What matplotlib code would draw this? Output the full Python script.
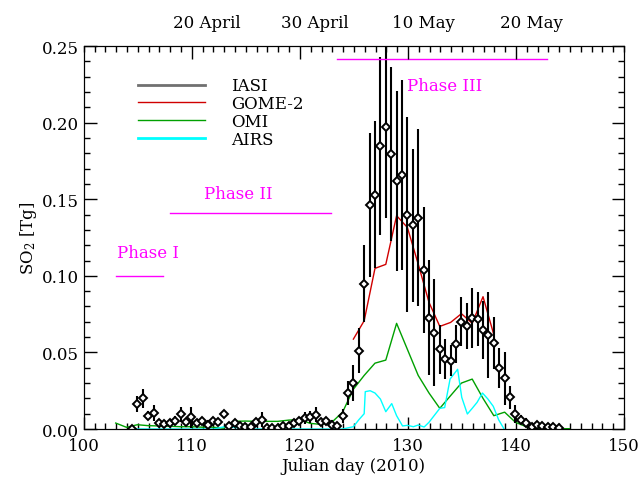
import matplotlib
matplotlib.use("Agg")
import matplotlib.pyplot as plt
from matplotlib.ticker import MultipleLocator

plt.rcParams['font.family'] = 'DejaVu Serif'
plt.rcParams['mathtext.fontset'] = 'dejavuserif'

# IASI daily values (two per day) with errors
iasi_day = [104.45, 104.95, 105.45, 105.95, 106.45, 106.95, 107.45, 107.95, 108.45, 108.95,
            109.45, 109.95, 110.45, 110.95, 111.45, 111.95, 112.45, 112.95, 113.45, 113.95,
            114.45, 114.95, 115.45, 115.95, 116.45, 116.95, 117.45, 117.95, 118.45, 118.95,
            119.45, 119.95, 120.45, 120.95, 121.45, 121.95, 122.45, 122.95, 123.45, 123.95,
            124.45, 124.95, 125.45, 125.95, 126.45, 126.95, 127.45, 127.95, 128.45, 128.95,
            129.45, 129.95, 130.45, 130.95, 131.45, 131.95, 132.45, 132.95, 133.45, 133.95,
            134.45, 134.95, 135.45, 135.95, 136.45, 136.95, 137.45, 137.95, 138.45, 138.95,
            139.45, 139.95, 140.45, 140.95, 141.45, 141.95, 142.45, 142.95, 143.45, 143.95]
iasi_so2 = [0.000, 0.0163, 0.020, 0.0087, 0.0104, 0.0037, 0.0033, 0.0037, 0.0054, 0.0096,
            0.0044, 0.0076, 0.0039, 0.0054, 0.0028, 0.005, 0.0044, 0.0098, 0.002, 0.0037,
            0.002, 0.0015, 0.0015, 0.0044, 0.006, 0.0005, 0.0007, 0.0005, 0.0017, 0.002,
            0.0037, 0.005, 0.0072, 0.008, 0.0093, 0.0048, 0.0054, 0.0026, 0.0017, 0.0087,
            0.0235, 0.030, 0.051, 0.095, 0.146, 0.153, 0.185, 0.1975, 0.1795, 0.162,
            0.166, 0.140, 0.133, 0.138, 0.104, 0.0727, 0.063, 0.052, 0.0457, 0.0446,
            0.0557, 0.070, 0.067, 0.0727, 0.0718, 0.0646, 0.0616, 0.056, 0.040, 0.033,
            0.0207, 0.0098, 0.006, 0.004, 0.0015, 0.0026, 0.002, 0.001, 0.001, 0.0007]
iasi_err = [0.001, 0.005, 0.006, 0.003, 0.005, 0.002, 0.002, 0.002, 0.003, 0.005,
            0.002, 0.007, 0.002, 0.002, 0.003, 0.003, 0.002, 0.001, 0.001, 0.002,
            0.001, 0.001, 0.001, 0.003, 0.005, 0.001, 0.001, 0.001, 0.001, 0.001,
            0.002, 0.002, 0.004, 0.004, 0.005, 0.002, 0.002, 0.003, 0.002, 0.0045,
            0.0077, 0.012, 0.0147, 0.025, 0.047, 0.048, 0.058, 0.06, 0.057, 0.059,
            0.062, 0.0635, 0.05, 0.058, 0.041, 0.0375, 0.035, 0.016, 0.013, 0.010,
            0.0125, 0.016, 0.015, 0.0195, 0.0175, 0.019, 0.028, 0.017, 0.013, 0.017,
            0.0075, 0.006, 0.003, 0.003, 0.001, 0.001, 0.001, 0.001, 0.001, 0.001]

# GOME-2
gome_day = [124.95, 125.95, 126.95, 127.95, 128.95, 129.95, 130.95, 131.95, 132.95,
            133.95, 134.95, 135.95, 136.95, 137.95]
gome_so2 = [0.0587, 0.0707, 0.1049, 0.1075, 0.1393, 0.1316, 0.1077, 0.0827, 0.067,
            0.0696, 0.0753, 0.069, 0.0864, 0.0616]

# OMI
omi_day = [102.95, 103.95, 104.95, 105.95, 106.95, 107.95, 108.95, 109.95, 110.95, 111.95,
           112.95, 113.95, 114.95, 115.95, 116.95, 117.95, 118.95, 119.95, 120.95, 121.95,
           122.95, 123.95, 124.95, 125.95, 126.95, 127.95, 128.95, 129.95, 130.95, 131.95,
           132.95, 133.95, 134.95, 135.95, 136.95, 137.95, 138.95, 139.95, 140.95, 141.95,
           142.95, 143.95, 144.95]
omi_so2 = [0.0039, 0.0011, 0.0028, 0.0022, 0.0020, 0.0018, 0.0015, 0.0015, 0.0012, 0.0012,
           0.0005, 0.0050, 0.0052, 0.0050, 0.0050, 0.0050, 0.0058, 0.0062, 0.0037, 0.0030,
           0.0044, 0.011, 0.026, 0.035, 0.043, 0.045, 0.069, 0.052, 0.035, 0.0235,
           0.0135, 0.0218, 0.030, 0.0326, 0.020, 0.0087, 0.011, 0.0044, 0.0015, 0.0005,
           0.0003, 0.0002, 0.0002]

# AIRS
airs_day = [104.7, 106.0, 108.0, 110.0, 112.0, 113.0, 114.0, 115.0, 117.0, 119.0,
            121.0, 123.0, 123.95, 124.95, 125.45, 125.95, 126.05, 126.5, 126.95, 127.45,
            127.95, 128.5, 128.95, 129.5, 129.95, 130.5, 130.95, 131.5, 131.95, 132.95,
            133.4, 133.9, 134.6, 134.98, 135.5, 135.95, 136.4, 136.9, 137.4, 137.9,
            138.4, 138.9]
airs_so2 = [0.0, 0.0, 0.0, 0.0, 0.0, 0.0015, 0.0010, 0.0, 0.0, 0.0,
            0.0, 0.0, 0.0, 0.0015, 0.006, 0.010, 0.0244, 0.025, 0.0235, 0.0196,
            0.0113, 0.0166, 0.0087, 0.002, 0.0024, 0.0015, 0.0026, 0.0013, 0.0044, 0.0135,
            0.014, 0.0326, 0.039, 0.0207, 0.0098, 0.0135, 0.0174, 0.0235, 0.0196, 0.0148,
            0.006, 0.0]

phase_names = ['Phase I', 'Phase II', 'Phase III']
phase_start = [103.0, 108.0, 123.4]
phase_end = [107.3, 122.9, 142.9]
phase_level = [0.100, 0.141, 0.2415]
phase_text_x = [105.9, 114.3, 133.4]
phase_text_y = [0.115, 0.154, 0.224]

top_ticks = [110, 120, 130, 140]
top_labels = ['20 April', '30 April', '10 May', '20 May']

fig = plt.figure(figsize=(6.4, 4.81), dpi=100)
ax = fig.add_axes([0.131, 0.106, 0.844, 0.796])

ax.plot(omi_day, omi_so2, color='#00a000', lw=1.0)
ax.plot(airs_day, airs_so2, color='#00ffff', lw=1.0)
ax.plot(gome_day, gome_so2, color='#d00000', lw=1.0)
ax.errorbar(iasi_day, iasi_so2, yerr=iasi_err, fmt='none', ecolor='black', elinewidth=1.5,
            capsize=0)
ax.plot(iasi_day, iasi_so2, 'D', ms=4, mfc='white', mec='black', mew=1.4)

for s, e, lev in zip(phase_start, phase_end, phase_level):
    ax.plot([s, e], [lev, lev], color='#ff00ff', lw=1.0)
for name, tx, ty in zip(phase_names, phase_text_x, phase_text_y):
    ax.text(tx, ty, name, color='#ff00ff', fontsize=12, ha='center', va='center')

# legend
leg_handles = [
    plt.Line2D([], [], color='#707070', lw=2),
    plt.Line2D([], [], color='#d00000', lw=1),
    plt.Line2D([], [], color='#00a000', lw=1),
    plt.Line2D([], [], color='#00ffff', lw=2),
]
ax.legend(leg_handles, ['IASI', 'GOME-2', 'OMI', 'AIRS'], loc='upper left',
          bbox_to_anchor=(0.085, 0.94), frameon=False, fontsize=12,
          handlelength=4.0, handletextpad=1.6, labelspacing=0.05, borderpad=0)

ax.set_xlim(100, 150)
ax.set_ylim(0, 0.25)
ax.xaxis.set_major_locator(MultipleLocator(10))
ax.xaxis.set_minor_locator(MultipleLocator(1))
ax.yaxis.set_major_locator(MultipleLocator(0.05))
ax.yaxis.set_minor_locator(MultipleLocator(0.01))
ax.yaxis.set_major_formatter(plt.FormatStrFormatter('%.2f'))
ax.tick_params(which='both', direction='in', right=True, top=False, labelsize=12)
ax.tick_params(axis='x', pad=6)
ax.tick_params(which='major', length=9, width=1)
ax.tick_params(which='minor', length=4, width=1)
ax.set_xlabel('Julian day (2010)', fontsize=12, labelpad=2)
ax.set_ylabel('SO$_2$ [Tg]', fontsize=12, labelpad=2)

top = ax.twiny()
top.set_xlim(100, 150)
top.set_xticks(top_ticks)
top.set_xticklabels([])
top.xaxis.set_minor_locator(MultipleLocator(1))
top.tick_params(which='both', direction='in')
top.tick_params(which='major', length=9, width=1)
top.tick_params(which='minor', length=4, width=1)
for t, lab in zip(top_ticks, top_labels):
    top.text(t + 1.4, 1.04, lab, transform=top.get_xaxis_transform(), ha='center',
             va='bottom', fontsize=12)

fig.savefig('out.png', dpi=100)
